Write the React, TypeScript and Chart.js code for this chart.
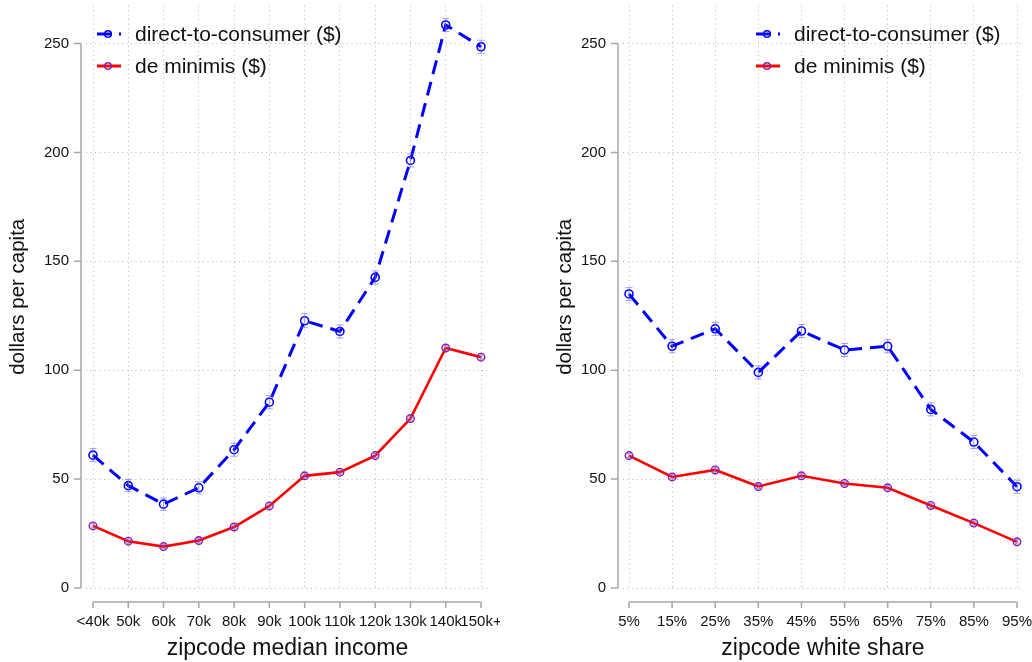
import { useEffect, useRef } from "react"
import { Chart, ChartOptions, Plugin, registerables } from "chart.js"

Chart.register(...registerables)

// Data
const incomeLabels = ["<40k", "50k", "60k", "70k", "80k", "90k", "100k", "110k", "120k", "130k", "140k", "150k+"]
const incomeDtc = [61, 47, 38.5, 46, 63.5, 85.3, 122.7, 117.8, 142.6, 196.3, 258.5, 248.5]
const incomeDtcErr = [3, 2.8, 2.8, 2.8, 3, 3, 3.2, 3, 3, 3, 3, 3]
const incomeDeMin = [28.5, 21.5, 19, 21.8, 28, 37.7, 51.5, 53.2, 60.8, 77.8, 110.2, 106]
const incomeDeMinErr = [1, 1, 1, 1, 1, 1, 1, 1, 1, 1, 1, 1]

const whiteLabels = ["5%", "15%", "25%", "35%", "45%", "55%", "65%", "75%", "85%", "95%"]
const whiteDtc = [135, 111, 119, 99, 118, 109.3, 111, 82, 67, 46.5]
const whiteDtcErr = [3, 3, 3, 3, 3, 3, 3, 3, 3, 3]
const whiteDeMin = [60.8, 51, 54.2, 46.6, 51.5, 48, 46, 37.9, 29.8, 21.2]
const whiteDeMinErr = [1, 1, 1, 1, 1, 1, 1, 1, 1, 1]

const yTicks = [0, 50, 100, 150, 200, 250]

const BLUE = "#0000ff"
const RED = "#ff0000"
const FONT = "'Liberation Sans', Arial, Helvetica, sans-serif"
const AXIS_GRAY = "#a6a6a6"
const TEXT = "#111"

// error bars, drawn from the per-dataset err arrays
const errorBars: Plugin = {
  id: "errorBars",
  afterDatasetsDraw(chart) {
    const { ctx, scales } = chart
    const x = scales.x
    const y = scales.y
    ctx.save()
    ctx.strokeStyle = "rgba(110, 110, 255, 0.65)"
    ctx.lineWidth = 1
    chart.data.datasets.forEach((ds: any) => {
      if (!ds.err) return
      ds.data.forEach((p: any, i: number) => {
        const px = x.getPixelForValue(p.x)
        const top = y.getPixelForValue(p.y + ds.err[i])
        const bot = y.getPixelForValue(p.y - ds.err[i])
        ctx.beginPath()
        ctx.moveTo(px, top)
        ctx.lineTo(px, bot)
        ctx.moveTo(px - 3.5, top)
        ctx.lineTo(px + 3.5, top)
        ctx.moveTo(px - 3.5, bot)
        ctx.lineTo(px + 3.5, bot)
        ctx.stroke()
      })
    })
    ctx.restore()
  },
}

// Stata-style detached axis lines with outward ticks
const stataAxes: Plugin = {
  id: "stataAxes",
  afterDraw(chart) {
    const { ctx, chartArea, scales } = chart
    const x = scales.x
    const y = scales.y
    const n = (chart.options as any).nCats as number
    const ax = chartArea.left - 5
    const ay = chartArea.bottom + 14
    ctx.save()
    ctx.strokeStyle = AXIS_GRAY
    ctx.lineWidth = 1.5
    ctx.beginPath()
    ctx.moveTo(ax, y.getPixelForValue(0))
    ctx.lineTo(ax, y.getPixelForValue(250))
    yTicks.forEach((t) => {
      const py = y.getPixelForValue(t)
      ctx.moveTo(ax, py)
      ctx.lineTo(ax - 7, py)
    })
    ctx.moveTo(x.getPixelForValue(0), ay)
    ctx.lineTo(x.getPixelForValue(n - 1), ay)
    for (let i = 0; i < n; i++) {
      const px = x.getPixelForValue(i)
      ctx.moveTo(px, ay)
      ctx.lineTo(px, ay + 6)
    }
    ctx.stroke()
    ctx.restore()
  },
}

const noPadding = (s: any) => {
  s.paddingTop = 0
  s.paddingBottom = 0
  s.paddingLeft = 0
  s.paddingRight = 0
}

interface PanelProps {
  labels: string[]
  dtc: number[]
  dtcErr: number[]
  deMin: number[]
  deMinErr: number[]
  xTitle: string
  yTitlePad: number
  padRight: number
  edgeLeft: number
  edgeRight: number
}

function Panel({ labels, dtc, dtcErr, deMin, deMinErr, xTitle, yTitlePad, padRight, edgeLeft, edgeRight }: PanelProps) {
  const chartRef = useRef<HTMLCanvasElement>(null)
  const chartInstance = useRef<Chart | null>(null)

  useEffect(() => {
    if (!chartRef.current) return
    if (chartInstance.current) chartInstance.current.destroy()
    const ctx = chartRef.current.getContext("2d")
    if (!ctx) return

    const n = labels.length
    // categories span 388px; a few px of plot area beyond first / last
    const step = 388 / (n - 1)
    const xMin = -edgeLeft / step
    const xMax = n - 1 + edgeRight / step

    const gridStyle = { color: "#b4b4b4", lineWidth: 1, drawTicks: false }
    const borderStyle = { display: false, dash: [1, 3.5] }

    const options: any = {
      responsive: true,
      maintainAspectRatio: false,
      animation: false,
      nCats: n,
      layout: { padding: { top: 5, right: padRight, left: 0, bottom: 0 } },
      plugins: { legend: { display: false }, tooltip: { enabled: false } },
      scales: {
        x: {
          type: "linear",
          min: xMin,
          max: xMax,
          afterFit: (s: any) => {
            s.height = 74
            noPadding(s)
          },
          afterBuildTicks: (s: any) => {
            s.ticks = labels.map((_, i) => ({ value: i }))
          },
          border: borderStyle,
          grid: gridStyle,
          ticks: {
            includeBounds: false,
            autoSkip: false,
            maxRotation: 0,
            padding: 25,
            color: TEXT,
            font: { family: FONT, size: 15 },
            callback: (v: any) => labels[v] ?? "",
          },
          title: {
            display: true,
            text: xTitle,
            color: TEXT,
            font: { family: FONT, size: 23 },
            padding: { top: 0, bottom: 0 },
          },
        },
        y: {
          min: 0,
          max: 267.4,
          afterFit: (s: any) => {
            s.width = 86
            noPadding(s)
          },
          afterBuildTicks: (s: any) => {
            s.ticks = yTicks.map((v) => ({ value: v }))
          },
          border: borderStyle,
          grid: gridStyle,
          ticks: {
            padding: 17,
            color: TEXT,
            font: { family: FONT, size: 15 },
          },
          title: {
            display: true,
            text: "dollars per capita",
            color: TEXT,
            font: { family: FONT, size: 20.5 },
            padding: { top: yTitlePad, bottom: 0 },
          },
        },
      },
    }

    const data = {
      datasets: [
        {
          label: "direct-to-consumer ($)",
          data: dtc.map((v, i) => ({ x: i, y: v })),
          err: dtcErr,
          borderColor: BLUE,
          borderWidth: 3,
          borderDash: [14, 8],
          pointRadius: 4,
          pointBorderWidth: 1.6,
          pointBorderColor: BLUE,
          pointBackgroundColor: "rgba(255,255,255,0)",
          tension: 0,
        },
        {
          label: "de minimis ($)",
          data: deMin.map((v, i) => ({ x: i, y: v })),
          err: deMinErr,
          borderColor: RED,
          borderWidth: 2.6,
          pointRadius: 3.8,
          pointBorderWidth: 1.4,
          pointBorderColor: "#8a1fa0",
          pointBackgroundColor: "rgba(255,0,0,0.12)",
          tension: 0,
        },
      ],
    }

    chartInstance.current = new Chart(ctx, {
      type: "line",
      data: data as any,
      options: options as ChartOptions<"line">,
      plugins: [errorBars, stataAxes],
    })

    return () => {
      if (chartInstance.current) chartInstance.current.destroy()
    }
  }, [labels, dtc, dtcErr, deMin, deMinErr, xTitle, yTitlePad, padRight, edgeLeft, edgeRight])

  return <canvas ref={chartRef} />
}

function LegendRow({ dashed, color, marker, label, top }: { dashed: boolean; color: string; marker: string; label: string; top: number }) {
  return (
    <div style={{ position: "absolute", left: 0, top, height: 30, display: "flex", alignItems: "center" }}>
      <svg width={26} height={12} style={{ marginRight: 13 }}>
        <line x1={1} y1={6} x2={25} y2={6} stroke={color} strokeWidth={3} strokeDasharray={dashed ? "15 7 2 20" : undefined} />
        <circle cx={12} cy={6} r={3.3} fill="none" stroke={marker} strokeWidth={1.5} />
      </svg>
      <span style={{ fontFamily: FONT, fontSize: 21, color: TEXT, whiteSpace: "nowrap" }}>{label}</span>
    </div>
  )
}

function Legend({ left }: { left: number }) {
  return (
    <div style={{ position: "absolute", left, top: 19, width: 260, height: 70 }}>
      <LegendRow dashed color={BLUE} marker={BLUE} label="direct-to-consumer ($)" top={0} />
      <LegendRow dashed={false} color={RED} marker="#8a1fa0" label="de minimis ($)" top={32} />
    </div>
  )
}

export default function App() {
  return (
    <div style={{ position: "fixed", left: 0, top: 0, width: 1032, height: 662, background: "#fff", overflow: "hidden" }}>
      <div style={{ position: "absolute", left: 0, top: 0, width: 500, height: 662 }}>
        <Panel
          labels={incomeLabels}
          dtc={incomeDtc}
          dtcErr={incomeDtcErr}
          deMin={incomeDeMin}
          deMinErr={incomeDeMinErr}
          xTitle="zipcode median income"
          yTitlePad={6}
          padRight={11}
          edgeLeft={7}
          edgeRight={8}
        />
      </div>
      <div style={{ position: "absolute", left: 537, top: 0, width: 495, height: 662 }}>
        <Panel
          labels={whiteLabels}
          dtc={whiteDtc}
          dtcErr={whiteDtcErr}
          deMin={whiteDeMin}
          deMinErr={whiteDeMinErr}
          xTitle="zipcode white share"
          yTitlePad={16}
          padRight={9}
          edgeLeft={6}
          edgeRight={6}
        />
      </div>
      <Legend left={96} />
      <Legend left={755} />
    </div>
  )
}
